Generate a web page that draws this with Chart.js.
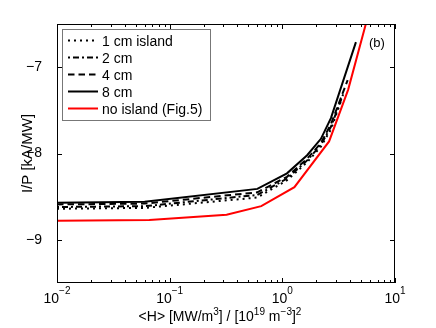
<!DOCTYPE html>
<html>
<head>
<meta charset="utf-8">
<script src="https://cdn.jsdelivr.net/npm/chart.js@4.4.0/dist/chart.umd.min.js"></script>
<style>
html, body { margin: 0; padding: 0; background: #fff; }
#wrap { width: 436px; height: 328px; }
</style>
</head>
<body>
<div id="wrap"><canvas id="chart" width="436" height="328"></canvas></div>
<script>
// series (x in MW/m3/[1e19 m-3]^2, y in kA/MW)
var labels = ['1 cm island', '2 cm', '4 cm', '8 cm', 'no island (Fig.5)'];

var x1cm = [0.01, 0.06, 0.6, 1.1, 1.66, 2.2, 2.7, 3.3];
var y1cm = [-8.64, -8.63, -8.51, -8.31, -8.10, -7.92, -7.72, -7.40];
var x2cm = [0.01, 0.06, 0.6, 1.1, 1.66, 2.2, 2.7, 3.5];
var y2cm = [-8.62, -8.61, -8.48, -8.29, -8.08, -7.90, -7.69, -7.30];
var x4cm = [0.01, 0.06, 0.6, 1.1, 1.66, 2.2, 2.7, 3.8];
var y4cm = [-8.59, -8.58, -8.45, -8.27, -8.06, -7.88, -7.66, -7.15];
var x8cm = [0.01, 0.06, 0.6, 1.1, 1.66, 2.2, 2.7, 4.5];
var y8cm = [-8.57, -8.56, -8.41, -8.23, -8.02, -7.83, -7.59, -6.71];
var xNo = [0.01, 0.066, 0.32, 0.65, 1.28, 2.6, 3.84, 6.0];
var yNo = [-8.78, -8.77, -8.71, -8.61, -8.39, -7.86, -7.26, -6.32];

var xTicks = [0.01, 0.1, 1, 10];
var yTicks = [-9, -8, -7];

var FONT = '"Liberation Sans", Arial, Helvetica, sans-serif';

function pts(xs, ys) {
	return xs.map(function (x, i) { return { x: x, y: ys[i] }; });
}

// text with raised pieces, parts = [[text, isSup], ...]
function richText(ctx, parts, cx, y, size, supSize, rise) {
	var w = 0;
	parts.forEach(function (p) {
		ctx.font = (p[1] ? supSize : size) + 'px ' + FONT;
		p.w = ctx.measureText(p[0]).width;
		w += p.w;
	});
	var x = cx - w / 2;
	ctx.textAlign = 'left';
	ctx.textBaseline = 'alphabetic';
	parts.forEach(function (p) {
		ctx.font = (p[1] ? supSize : size) + 'px ' + FONT;
		ctx.fillText(p[0], x, p[1] ? y - rise : y);
		x += p.w;
	});
}

var matlabAxes = {
	id: 'matlabAxes',
	afterDraw: function (chart) {
		var ctx = chart.ctx, a = chart.chartArea;
		var xs = chart.scales.x, ys = chart.scales.y;
		ctx.save();
		ctx.strokeStyle = '#000';
		ctx.fillStyle = '#000';
		ctx.lineWidth = 1;
		ctx.setLineDash([]);
		// frame
		ctx.strokeRect(a.left + 0.5, a.top + 0.5, a.right - a.left - 1, a.bottom - a.top - 1);
		// x ticks, inward, major + minor
		ctx.beginPath();
		for (var k = -2; k <= 1; k++) {
			for (var m = 1; m <= 9; m++) {
				var v = m * Math.pow(10, k);
				if (v > 10.0001) break;
				var px = Math.round(xs.getPixelForValue(v)) + 0.5;
				var len = m === 1 ? 5 : 3;
				ctx.moveTo(px, a.bottom); ctx.lineTo(px, a.bottom - len);
				ctx.moveTo(px, a.top); ctx.lineTo(px, a.top + len);
			}
		}
		yTicks.forEach(function (v) {
			var py = Math.round(ys.getPixelForValue(v)) + 0.5;
			ctx.moveTo(a.left, py); ctx.lineTo(a.left + 5, py);
			ctx.moveTo(a.right, py); ctx.lineTo(a.right - 5, py);
		});
		ctx.stroke();
		// x tick labels 10^k
		xTicks.forEach(function (v) {
			var k = Math.round(Math.log10(v));
			var e = (k < 0 ? '\u2212' : '') + Math.abs(k);
			richText(ctx, [['10', false], [e, true]], xs.getPixelForValue(v), 303, 14, 10, 9);
		});
		// x axis title
		richText(ctx, [['<H> [MW/m', false], ['3', true], ['] / [10', false], ['19', true],
			[' m', false], ['\u22123', true], [']', false], ['2', true]],
			(a.left + a.right) / 2 - 6, 321, 14, 10, 6);
		// y axis title, rotated
		ctx.save();
		ctx.translate(32, (a.top + a.bottom) / 2);
		ctx.rotate(-Math.PI / 2);
		ctx.font = '15px ' + FONT;
		ctx.textAlign = 'center';
		ctx.textBaseline = 'alphabetic';
		ctx.fillText('I/P [kA/MW]', 0, 0);
		ctx.restore();
		// panel tag
		ctx.font = '13px ' + FONT;
		ctx.textAlign = 'left';
		ctx.fillText('(b)', 369, 47);
		// legend box
		var bx = 62, by = 29, bw = 148, bh = 91;
		ctx.fillStyle = '#fff';
		ctx.fillRect(bx, by, bw, bh);
		ctx.strokeStyle = '#777';
		ctx.strokeRect(bx + 0.5, by + 0.5, bw, bh);
		chart.data.datasets.forEach(function (ds, i) {
			var base = 46 + i * 17;
			ctx.strokeStyle = ds.borderColor;
			ctx.lineWidth = ds.borderWidth;
			ctx.setLineDash(ds.borderDash || []);
			ctx.beginPath();
			ctx.moveTo(68, base - 5.5);
			ctx.lineTo(98, base - 5.5);
			ctx.stroke();
			ctx.setLineDash([]);
			ctx.fillStyle = '#000';
			ctx.font = '14px ' + FONT;
			ctx.textAlign = 'left';
			ctx.textBaseline = 'alphabetic';
			ctx.fillText(ds.label, 102, base);
		});
		ctx.restore();
	}
};

function series(label, xs, ys, color, dash) {
	return {
		label: label,
		data: pts(xs, ys),
		borderColor: color,
		borderWidth: 2,
		borderDash: dash,
		pointRadius: 0,
		tension: 0,
		fill: false
	};
}

new Chart(document.getElementById('chart').getContext('2d'), {
	type: 'line',
	data: {
		datasets: [
			series(labels[0], x1cm, y1cm, '#000', [2, 4]),
			series(labels[1], x2cm, y2cm, '#000', [2, 3, 6, 3]),
			series(labels[2], x4cm, y4cm, '#000', [6.5, 4]),
			series(labels[3], x8cm, y8cm, '#000', []),
			series(labels[4], xNo, yNo, '#ff0000', [])
		]
	},
	options: {
		responsive: false,
		animation: false,
		layout: { padding: { left: 0, right: 41, top: 24, bottom: 0 } },
		plugins: { legend: { display: false }, tooltip: { enabled: false } },
		scales: {
			x: {
				type: 'logarithmic',
				min: 0.01,
				max: 10,
				grid: { display: false },
				border: { display: false },
				ticks: { display: false },
				afterBuildTicks: function (s) { s.ticks = xTicks.map(function (v) { return { value: v }; }); },
				afterFit: function (s) { s.height = 45; }
			},
			y: {
				min: -9.5,
				max: -6.5,
				grid: { display: false },
				border: { display: false },
				afterBuildTicks: function (s) { s.ticks = yTicks.map(function (v) { return { value: v }; }); },
				afterFit: function (s) { s.width = 57; },
				ticks: {
					padding: 7,
					color: '#000',
					font: { family: FONT, size: 14 },
					callback: function (v) { return v < 0 ? '\u2212' + Math.abs(v) : '' + v; }
				}
			}
		}
	},
	plugins: [matlabAxes]
});
</script>
</body>
</html>
